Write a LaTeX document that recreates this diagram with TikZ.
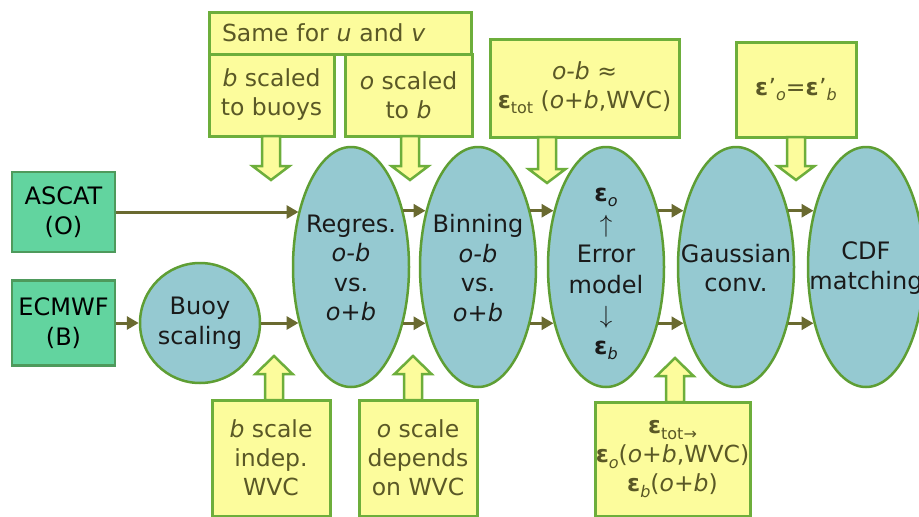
\documentclass[tikz,border=0pt]{standalone}
\usepackage{fontspec}
\setmainfont{DejaVu Sans}
\usetikzlibrary{shapes.geometric,arrows.meta}
\definecolor{srcfill}{HTML}{62D49F}
\definecolor{srcdraw}{HTML}{4E9A5C}
\definecolor{ellfill}{HTML}{95C9D1}
\definecolor{elldraw}{HTML}{5E9E34}
\definecolor{yfill}{HTML}{FCFC9C}
\definecolor{ydraw}{HTML}{6DAE3B}
\definecolor{ytext}{HTML}{5A5826}
\definecolor{arrcol}{HTML}{6A6A30}
\definecolor{etext}{HTML}{1A1A1A}
\newcommand\lsub[1]{\raisebox{-0.4ex}{\fontsize{16}{16}\selectfont #1}}
\newcommand\eps{\textbf{ε}}
\newcommand\epr{\textbf{ε}\kern0.5pt’}
% #1 x, #2 start y, #3 head base y, #4 tip y
\newcommand\blockarr[4]{\draw[barrowstyle] ({#1-9},#2) -- ({#1-9},#3) -- ({#1-18.5},#3) -- (#1,#4) -- ({#1+18.5},#3) -- ({#1+9},#3) -- ({#1+9},#2) -- cycle;}
\tikzset{
  basefont/.style={font=\fontsize{24}{29.5}\selectfont},
  src/.style={basefont, rectangle, draw=srcdraw, fill=srcfill, line width=2.5pt,
    minimum width=103pt, minimum height=80pt, inner sep=0pt, align=center, text=black},
  proc/.style={ellipse, draw=elldraw, fill=ellfill, line width=2.5pt,
    minimum width=116pt, minimum height=240pt, inner sep=0pt},
  proctext/.style={basefont, align=center, inner sep=0pt, text=etext},
  note/.style={rectangle, draw=ydraw, fill=yfill, line width=3pt, inner sep=0pt,
    text=ytext, align=center, font=\fontsize{23.5}{29}\selectfont},
  flow/.style={draw=arrcol, line width=3pt, -{Triangle[length=12pt,width=13pt]}},
  barrowstyle/.style={draw=ydraw, fill=yfill, line width=2.5pt, line join=miter},
}
\begin{document}
\begin{tikzpicture}[x=1pt, y=-1pt]
\useasboundingbox[fill=white] (0,0) rectangle (919,517);

% sources
\node[src] (ascat) at (63.5,212) {ASCAT\\(O)};
\node[src, minimum height=85pt] (ecm) at (63.5,323) {ECMWF\\(B)};

% processing ellipses
\node[proc, minimum width=120pt, minimum height=120pt] (buoy) at (200,323) {};
\node[proctext] (buoyt) at (200,323) {Buoy\\scaling};
\node[proc] (reg) at (351,267) {};
\node[proctext] (regt) at (351,268) {Regres.\\\textit{o-b}\\vs.\\\textit{o+b}};
\node[proc] (bin) at (478,267) {};
\node[proctext] (bint) at (478,268) {Binning\\\textit{o-b}\\vs.\\\textit{o+b}};
\node[proc] (err) at (606,267) {};
\node[proctext, font=\fontsize{24}{30.5}\selectfont] (errt) at (606,274) {\eps\lsub{\textit{o}}\\$\uparrow$\\Error\\model\\$\downarrow$\\\eps\lsub{\textit{b}}};
\node[proc] (gau) at (736,267) {};
\node[proctext] (gaut) at (736,268) {Gaussian\\conv.};
\node[proc] (cdf) at (866,267) {};
\node[proctext] (cdft) at (866,268) {CDF\\matching};

% flow arrows
\draw[flow] (ascat.east) -- (ascat.east -| reg.133);
\draw[flow] (ecm.east) -- (buoy.west);
\draw[flow] (buoy.east) -- (buoy.east -| reg.-133);
\draw[flow] (reg.47) -- (reg.47 -| bin.133);
\draw[flow] (reg.-47) -- (reg.-47 -| bin.-133);
\draw[flow] (bin.47) -- (bin.47 -| err.133);
\draw[flow] (bin.-47) -- (bin.-47 -| err.-133);
\draw[flow] (err.47) -- (err.47 -| gau.133);
\draw[flow] (err.-47) -- (err.-47 -| gau.-133);
\draw[flow] (gau.47) -- (gau.47 -| cdf.133);
\draw[flow] (gau.-47) -- (gau.-47 -| cdf.-133);

% top notes
\node[note, minimum width=262pt, minimum height=42pt, text width=237pt, align=left] (hdr) at (340.5,33) {Same for \textit{u} and \textit{v}};
\node[note, minimum width=125pt, minimum height=82pt] (sbl) at (271.5,95) {\textit{b} scaled\\to buoys};
\node[note, minimum width=127pt, minimum height=82pt] (sbr) at (408.5,95) {\textit{o} scaled\\to \textit{b}};
\node[note, minimum width=189pt, minimum height=98pt] (otot) at (584.5,88) {\textit{o-b} ≈\\\eps\lsub{tot} (\textit{o+b},WVC)};
\node[note, minimum width=120pt, minimum height=95pt] (eprbox) at (796,89.5) {\epr\lsub{\textit{o}}=\epr\lsub{\textit{b}}};

% bottom notes
\node[note, minimum width=118pt, minimum height=116pt] (bsc) at (271,458) {\textit{b} scale\\indep.\\WVC};
\node[note, minimum width=118pt, minimum height=116pt] (osc) at (418,458) {\textit{o} scale\\depends\\on WVC};
\node[note, minimum width=155pt, minimum height=114pt] (etot) at (672.5,459) {\eps\lsub{tot→}\\\eps\lsub{\textit{o}}(\textit{o+b},WVC)\\\eps\lsub{\textit{b}}(\textit{o+b})};

% block arrows
\blockarr{271}{136}{166}{180}
\blockarr{410}{136}{166}{180}
\blockarr{547}{137}{169}{183}
\blockarr{796}{137}{166}{180}
\blockarr{274}{400}{374}{356}
\blockarr{413}{400}{374}{356}
\blockarr{675}{402}{376}{358}
\end{tikzpicture}
\end{document}
